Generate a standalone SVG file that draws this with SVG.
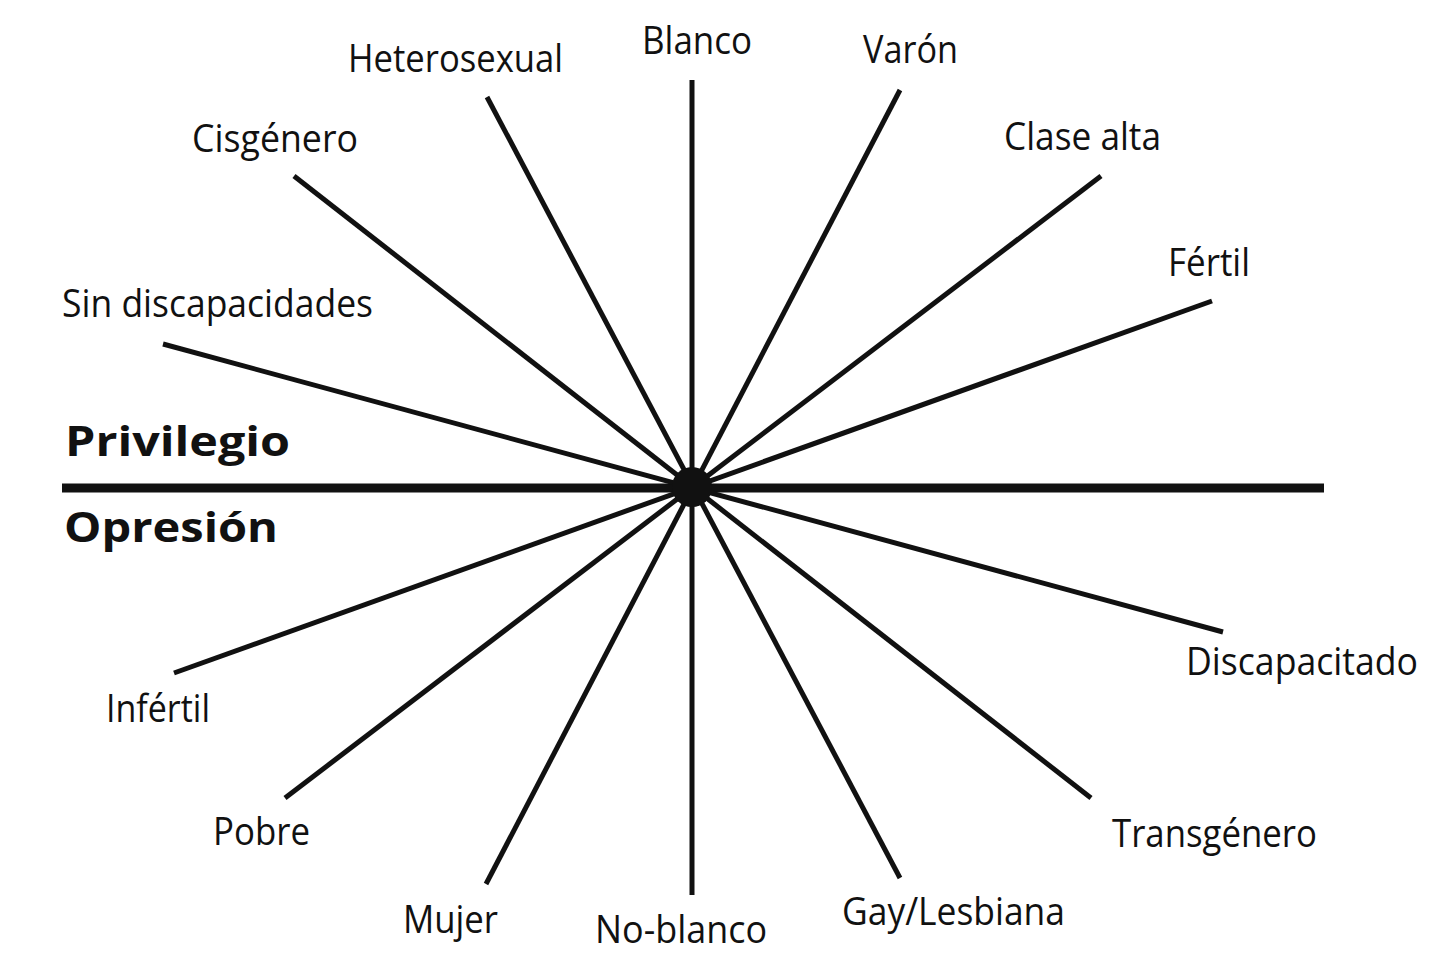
<svg xmlns="http://www.w3.org/2000/svg" width="1456" height="965" viewBox="0 0 1456 965">
<style>
.sp{stroke:#111;stroke-width:5;stroke-linecap:butt;fill:none}
.ax{stroke:#111;stroke-width:9;fill:none}
.lb{font-family:"Open Sans","Noto Sans","Liberation Sans",sans-serif;font-size:38px;fill:#111}
.hd{font-family:"Open Sans","Noto Sans","Liberation Sans",sans-serif;font-size:42px;font-weight:bold;fill:#111}
</style>
<rect width="1456" height="965" fill="#fff"/>
<g id="connectors">
<line class="ax" x1="62" y1="488" x2="1324" y2="488"/>
<line class="sp" x1="692" y1="80" x2="692" y2="895"/>
<line class="sp" x1="487" y1="97" x2="900" y2="878"/>
<line class="sp" x1="900" y1="90" x2="486" y2="884"/>
<line class="sp" x1="294" y1="176" x2="1091" y2="798"/>
<line class="sp" x1="1101" y1="176" x2="285" y2="798"/>
<line class="sp" x1="163" y1="344" x2="1223" y2="632"/>
<line class="sp" x1="1212" y1="301" x2="174" y2="673"/>
<circle cx="692" cy="487" r="20" fill="#111"/>
</g>
<g id="n-blanco"><text class="lb" x="642" y="54" textLength="110" lengthAdjust="spacingAndGlyphs">Blanco</text></g>
<g id="n-heterosexual"><text class="lb" x="348" y="72" textLength="215" lengthAdjust="spacingAndGlyphs">Heterosexual</text></g>
<g id="n-varon"><text class="lb" x="863" y="63" textLength="95" lengthAdjust="spacingAndGlyphs">Varón</text></g>
<g id="n-cisgenero"><text class="lb" x="192" y="152" textLength="166" lengthAdjust="spacingAndGlyphs">Cisgénero</text></g>
<g id="n-clasealta"><text class="lb" x="1004" y="150" textLength="157" lengthAdjust="spacingAndGlyphs">Clase alta</text></g>
<g id="n-fertil"><text class="lb" x="1168" y="276" textLength="82" lengthAdjust="spacingAndGlyphs">Fértil</text></g>
<g id="n-sindisc"><text class="lb" x="62" y="317" textLength="311" lengthAdjust="spacingAndGlyphs">Sin discapacidades</text></g>
<g id="n-privilegio"><text class="hd" x="65" y="456" textLength="225" lengthAdjust="spacingAndGlyphs">Privilegio</text></g>
<g id="n-opresion"><text class="hd" x="64" y="542" textLength="214" lengthAdjust="spacingAndGlyphs">Opresión</text></g>
<g id="n-discapacitado"><text class="lb" x="1186" y="675" textLength="232" lengthAdjust="spacingAndGlyphs">Discapacitado</text></g>
<g id="n-infertil"><text class="lb" x="106" y="722" textLength="104" lengthAdjust="spacingAndGlyphs">Infértil</text></g>
<g id="n-pobre"><text class="lb" x="213" y="845" textLength="97" lengthAdjust="spacingAndGlyphs">Pobre</text></g>
<g id="n-transgenero"><text class="lb" x="1112" y="847" textLength="205" lengthAdjust="spacingAndGlyphs">Transgénero</text></g>
<g id="n-mujer"><text class="lb" x="403" y="933" textLength="95" lengthAdjust="spacingAndGlyphs">Mujer</text></g>
<g id="n-noblanco"><text class="lb" x="595" y="943" textLength="172" lengthAdjust="spacingAndGlyphs">No-blanco</text></g>
<g id="n-gaylesbiana"><text class="lb" x="842" y="925" textLength="223" lengthAdjust="spacingAndGlyphs">Gay/Lesbiana</text></g>
</svg>
